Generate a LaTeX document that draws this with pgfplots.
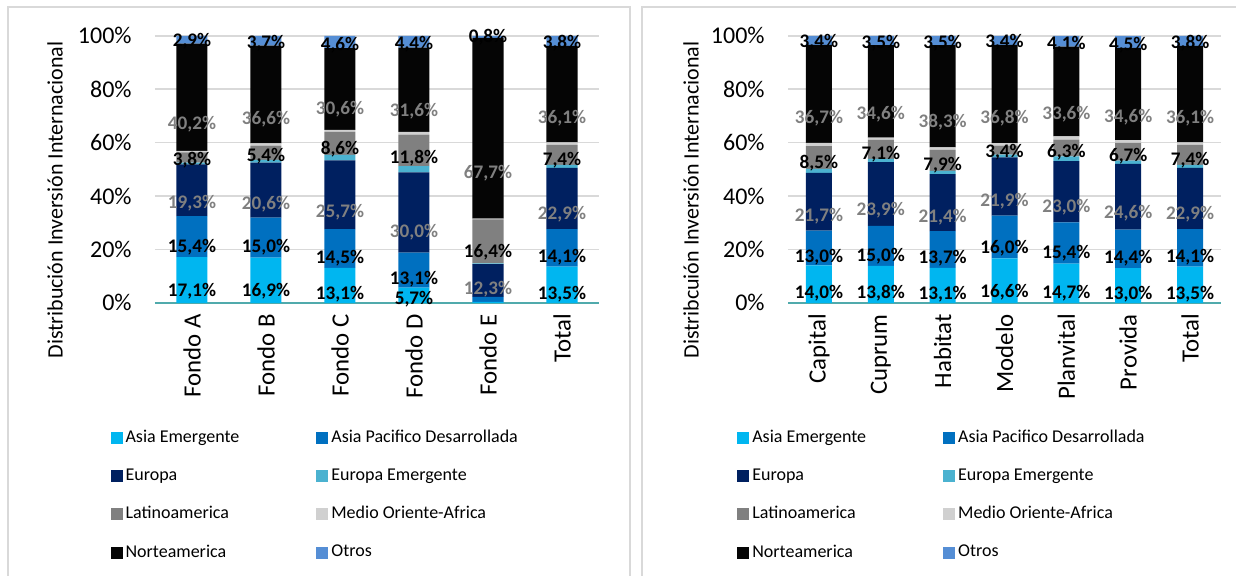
\documentclass[border=0pt]{standalone}
\usepackage{fontspec}
\setmainfont{Carlito}
\usepackage{pgfplots}
\usepackage{pgfplotstable}
\pgfplotsset{compat=1.18}

\definecolor{cAE}{RGB}{0,182,240}
\definecolor{cAPD}{RGB}{0,112,192}
\definecolor{cEU}{RGB}{0,32,96}
\definecolor{cEE}{RGB}{75,178,208}
\definecolor{cLA}{RGB}{128,128,128}
\definecolor{cMOA}{RGB}{208,208,208}
\definecolor{cNA}{RGB}{5,5,5}
\definecolor{cOT}{RGB}{85,142,213}
\definecolor{cBase}{RGB}{80,170,172}
\definecolor{cGrid}{RGB}{217,217,217}
\definecolor{cBorder}{RGB}{217,217,217}
\definecolor{cLabGray}{RGB}{128,128,128}

% distribucion por fondo
\pgfplotstableread{
x AE APD EU EE LA MOA NA OT
0 17.1 15.4 19.3 0.7 3.8 0.6 40.2 2.9
1 16.9 15.0 20.6 1.0 5.4 0.8 36.6 3.7
2 13.1 14.5 25.7 2.1 8.6 0.8 30.6 4.6
3 5.7 13.1 30.0 2.4 11.8 1.0 31.6 4.4
4 0.3 1.9 12.3 0.3 16.4 0.3 67.7 0.8
5 13.5 14.1 22.9 1.2 7.4 1.0 36.1 3.8
}\fondos

% distribucion por AFP
\pgfplotstableread{
x AE APD EU EE LA MOA NA OT
0 14.0 13.0 21.7 1.5 8.5 1.2 36.7 3.4
1 13.8 15.0 23.9 1.2 7.1 0.9 34.6 3.5
2 13.1 13.7 21.4 1.2 7.9 0.9 38.3 3.5
3 16.6 16.0 21.9 1.0 3.4 0.9 36.8 3.4
4 14.7 15.4 23.0 1.7 6.3 1.2 33.6 4.1
5 13.0 14.4 24.6 1.2 6.7 1.0 34.6 4.5
6 13.5 14.1 22.9 1.2 7.4 1.0 36.1 3.8
}\afps

\pgfplotsset{
  panel/.style={
    ybar stacked, scale only axis, height=133.5pt,
    ymin=0, ymax=100,
    ytick={0,20,40,60,80,100},
    yticklabels={0\%,20\%,40\%,60\%,80\%,100\%},
    xtick=data, xmin=-0.5,
    axis lines*=left,
    y axis line style={draw=none},
    x axis line style={draw=cBase, line width=0.9pt},
    major tick length=0pt,
    ymajorgrids, major grid style={draw=cGrid, line width=0.8pt},
    /pgf/number format/assume math mode=true,
    tick label style={font=\fontsize{12}{14}\selectfont, text=black},
    % rotated labels: xshift moves them down the page
    xticklabel style={font=\fontsize{12.4}{14}\selectfont, rotate=90, anchor=east, inner sep=0pt, xshift=-5.5pt},
    yticklabel style={anchor=east, inner sep=0pt, xshift=-11.5pt},
    ylabel style={font=\fontsize{11}{13}\selectfont, anchor=center},
    visualization depends on={rawy \as \rawy},
    legend columns=2, legend cell align=left,
    legend image code/.code={\fill[##1] (0pt,-3pt) rectangle (6pt,3pt);},
    legend style={draw=none, fill=none, inner sep=0pt, anchor=north west,
      font=\fontsize{9}{10}\selectfont, row sep=11.5pt,
      nodes={inner xsep=1.5pt, inner ysep=0pt},
      /tikz/every even column/.append style={column sep=37pt}},
  },
  seg/.style={fill=#1, draw=none},
  % the shift is applied twice by nodes near coords, hence /4 for the half height
  lab/.style={
    nodes near coords={\pgfmathprintnumber[fixed,fixed zerofill,precision=1,use comma]{\rawy}\%},
    every node near coord/.append style={font=\bfseries\fontsize{9.6}{10}\selectfont,
      text=#1, anchor=center, inner sep=0pt, shift={(axis direction cs:0,-\rawy/4)}}},
  labc/.style={
    nodes near coords={\ifdim\rawy pt>3pt \pgfmathprintnumber[fixed,fixed zerofill,precision=1,use comma]{\rawy}\%\fi},
    every node near coord/.append style={font=\bfseries\fontsize{9.6}{10}\selectfont,
      text=#1, anchor=center, inner sep=0pt, shift={(axis direction cs:0,-\rawy/4)}}},
}

\begin{document}
\begin{tikzpicture}
\useasboundingbox (0,0) rectangle (618pt,288pt);
\draw[cBorder, line width=0.8pt] (4pt,-5pt) -- (4pt,284.5pt) -- (315pt,284.5pt) -- (315pt,-5pt);
\draw[cBorder, line width=0.8pt] (321pt,-5pt) -- (321pt,284.5pt) -- (625pt,284.5pt);

\begin{axis}[panel,
  at={(77.5pt,136.6pt)}, anchor=south west,
  width=222pt, xmax=5.5, bar width=15.5pt,
  xticklabels={Fondo A,Fondo B,Fondo C,Fondo D,Fondo E,Total},
  ylabel={Distribución Inversión Internacional},
  ylabel style={at={(axis description cs:-0.225,0.385)}},
  legend style={at={(-0.101,-0.476)}},
]
\addplot[seg=cAE, labc=black] table[x=x, y=AE] {\fondos};
\addplot[seg=cAPD, labc=black] table[x=x, y=APD] {\fondos};
\addplot[seg=cEU, lab=cLabGray] table[x=x, y=EU] {\fondos};
\addplot[seg=cEE] table[x=x, y=EE] {\fondos};
\addplot[seg=cLA, lab=black] table[x=x, y=LA] {\fondos};
\addplot[seg=cMOA] table[x=x, y=MOA] {\fondos};
\addplot[seg=cNA, lab=cLabGray] table[x=x, y=NA] {\fondos};
\addplot[seg=cOT, lab=black] table[x=x, y=OT] {\fondos};
\legend{Asia Emergente,Asia Pacifico Desarrollada,Europa,Europa Emergente,Latinoamerica,Medio Oriente-Africa,Norteamerica,Otros}
\end{axis}

\begin{axis}[panel,
  at={(394pt,136.6pt)}, anchor=south west,
  width=216.5pt, xmax=6.5, bar width=13pt,
  xticklabels={Capital,Cuprum,Habitat,Modelo,Planvital,Provida,Total},
  ylabel={Distribcuión Inversión Internacional},
  ylabel style={at={(axis description cs:-0.224,0.385)}},
  legend style={at={(-0.118,-0.476)}},
]
\addplot[seg=cAE, labc=black] table[x=x, y=AE] {\afps};
\addplot[seg=cAPD, labc=black] table[x=x, y=APD] {\afps};
\addplot[seg=cEU, lab=cLabGray] table[x=x, y=EU] {\afps};
\addplot[seg=cEE] table[x=x, y=EE] {\afps};
\addplot[seg=cLA, lab=black] table[x=x, y=LA] {\afps};
\addplot[seg=cMOA] table[x=x, y=MOA] {\afps};
\addplot[seg=cNA, lab=cLabGray] table[x=x, y=NA] {\afps};
\addplot[seg=cOT, lab=black] table[x=x, y=OT] {\afps};
\legend{Asia Emergente,Asia Pacifico Desarrollada,Europa,Europa Emergente,Latinoamerica,Medio Oriente-Africa,Norteamerica,Otros}
\end{axis}
\end{tikzpicture}
\end{document}
